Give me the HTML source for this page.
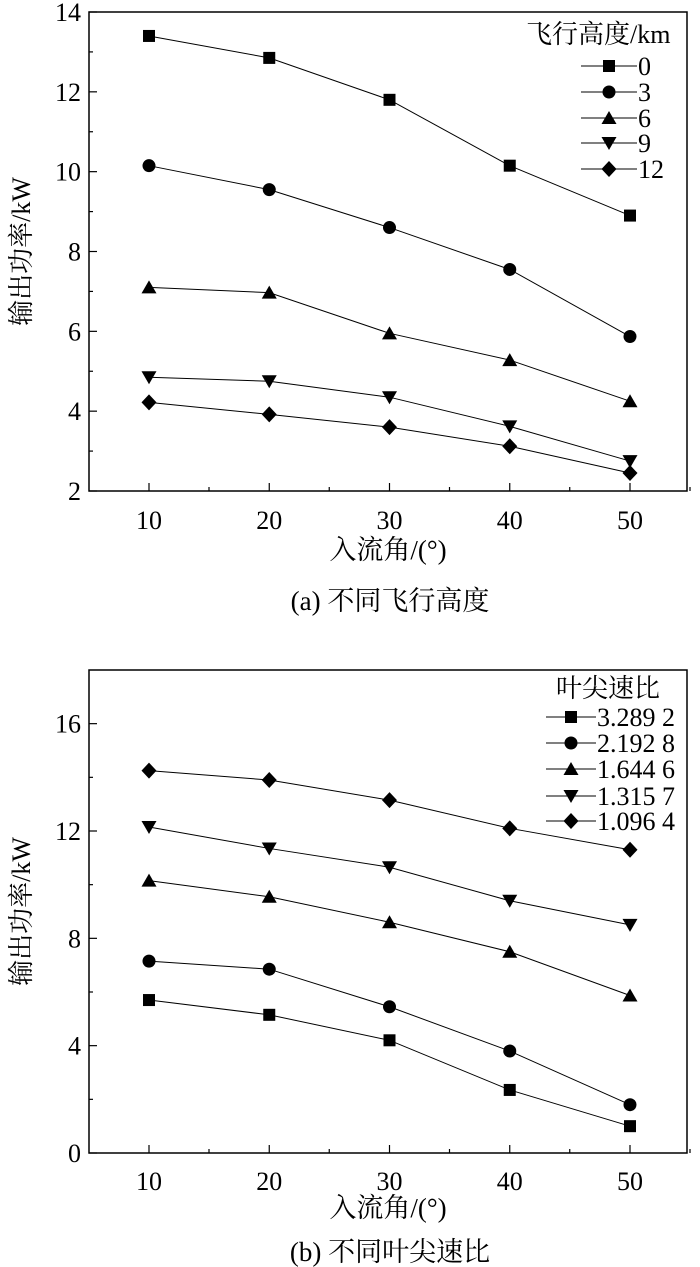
<!DOCTYPE html>
<html><head><meta charset="utf-8"><style>
html,body{margin:0;padding:0;background:#fff;}
svg{display:block;font-family:"Liberation Serif","Noto Serif CJK SC","Noto Sans CJK SC",serif;}
</style></head><body>
<svg id="s" width="700" height="1267" viewBox="0 0 700 1267"></svg>
<script>
const xCats=[10,20,30,40,50];
const xTicks=[10,20,30,40,50];
const aSeriesNames=["0","3","6","9","12"];
const aAlt0=[13.4,12.85,11.8,10.15,8.9];
const aAlt3=[10.15,9.55,8.6,7.55,5.87];
const aAlt6=[7.1,6.97,5.95,5.28,4.25];
const aAlt9=[4.85,4.75,4.35,3.62,2.75];
const aAlt12=[4.22,3.92,3.6,3.12,2.45];
const aYTicks=[2,4,6,8,10,12,14];
const bSeriesNames=["3.289 2","2.192 8","1.644 6","1.315 7","1.096 4"];
const bT1=[5.7,5.15,4.2,2.35,1.0];
const bT2=[7.15,6.85,5.45,3.8,1.8];
const bT3=[10.15,9.55,8.6,7.5,5.87];
const bT4=[12.15,11.35,10.65,9.4,8.5];
const bT5=[14.25,13.9,13.15,12.1,11.3];
const bYTicks=[0,4,8,12,16];
const markers=["square","circle","up","down","diamond"];

const NS="http://www.w3.org/2000/svg";
const svg=document.getElementById('s');
function mk(tag,attrs,parent){const e=document.createElementNS(NS,tag);for(const k in attrs)e.setAttribute(k,attrs[k]);(parent||svg).appendChild(e);return e;}
function marker(g,type,x,y){
  let e;
  if(type==="square")e=mk('rect',{x:x-6,y:y-6,width:12,height:12,fill:'#000'},g);
  else if(type==="circle")e=mk('circle',{cx:x,cy:y,r:6.5,fill:'#000'},g);
  else if(type==="up")e=mk('polygon',{points:`${x},${y-7} ${x+7.5},${y+6} ${x-7.5},${y+6}`,fill:'#000'},g);
  else if(type==="down")e=mk('polygon',{points:`${x},${y+7} ${x+7.5},${y-6} ${x-7.5},${y-6}`,fill:'#000'},g);
  else e=mk('polygon',{points:`${x},${y-8} ${x+7.5},${y} ${x},${y+8} ${x-7.5},${y}`,fill:'#000'},g);
  
  
}
function chart(o){
  const L=89,R=687,T=o.top,B=o.bottom;
  const xs=v=>149+(v-10)*(630-149)/40;
  const ys=v=>B-(v-o.ymin)*(B-T)/(o.ymax-o.ymin);
  const g=mk('g',{});
  
  
  const fr=mk('rect',{x:L,y:T,width:R-L,height:B-T,fill:'none',stroke:'#000','stroke-width':1.5},g);
  
  xTicks.forEach(v=>{
    const x=xs(v);
    mk('line',{x1:x,y1:B,x2:x,y2:B-8,stroke:'#000','stroke-width':1.2},g);
    mk('line',{x1:x+60,y1:B,x2:x+60,y2:B-4,stroke:'#000','stroke-width':1.2},g);
    const t=mk('text',{x:x,y:B+o.tickOff,'font-size':26,'text-anchor':'middle'},g);t.textContent=v;
    
  });
  const step=o.yTicks[1]-o.yTicks[0];
  o.yTicks.forEach(v=>{
    const y=ys(v);
    mk('line',{x1:L,y1:y,x2:L+8,y2:y,stroke:'#000','stroke-width':1.2},g);
    if(v+step/2<o.ymax)mk('line',{x1:L,y1:ys(v+step/2),x2:L+4,y2:ys(v+step/2),stroke:'#000','stroke-width':1.2},g);
    const t=mk('text',{x:L-8,y:y+9,'font-size':26,'text-anchor':'end'},g);t.textContent=v;
    
  });
  const yt=mk('text',{x:0,y:0,'font-size':26,'text-anchor':'middle',transform:`translate(30,${(T+B)/2}) rotate(-90)`},g);
  yt.textContent='输出功率/kW';
  const xt=mk('text',{x:388,y:B+o.titleOff,'font-size':27,'text-anchor':'middle'},g);
  xt.textContent='入流角/(°)';
  const cp=mk('text',{x:390,y:B+o.capOff,'font-size':27,'text-anchor':'middle'},g);
  cp.textContent=o.caption;
  o.series.forEach((s,i)=>{
    const pts=s.map((v,j)=>xs(xCats[j])+','+ys(v)).join(' ');
    const pl=mk('polyline',{points:pts,fill:'none',stroke:'#000','stroke-width':1},g);
    
    
    s.forEach((v,j)=>marker(g,markers[i],xs(xCats[j]),ys(v)));
  });
  const lg=mk('g',{},g);
  
  const lt=mk('text',{x:o.lx.title,y:o.ly[0],'font-size':26},lg);
  lt.textContent=o.legendTitle;
  o.names.forEach((n,i)=>{
    const y=o.ly[i+1];
    const le=mk('g',{},lg);
    
    mk('line',{x1:o.lx.l1,y1:y,x2:o.lx.l2,y2:y,stroke:'#000','stroke-width':1},le);
    marker(le,markers[i],(o.lx.l1+o.lx.l2)/2,y);
    const t=mk('text',{x:o.lx.l2+1,y:y+9,'font-size':26},le);t.textContent=n;
  });
}
chart({name:'chart-a',top:12,bottom:491,ymin:2,ymax:14,yTicks:aYTicks,series:[aAlt0,aAlt3,aAlt6,aAlt9,aAlt12],
  names:aSeriesNames,caption:'(a) 不同飞行高度',legendTitle:'飞行高度/km',
  tickOff:38,titleOff:68,capOff:119,
  lx:{title:526,l1:581,l2:637},ly:[43,66,92,118,143,169]});
chart({name:'chart-b',top:670,bottom:1153,ymin:0,ymax:18,yTicks:bYTicks,series:[bT1,bT2,bT3,bT4,bT5],
  names:bSeriesNames,caption:'(b) 不同叶尖速比',legendTitle:'叶尖速比',
  tickOff:37,titleOff:64,capOff:108,
  lx:{title:556,l1:546,l2:596},ly:[697,717,743,769,796,821]});
</script>
</body></html>
